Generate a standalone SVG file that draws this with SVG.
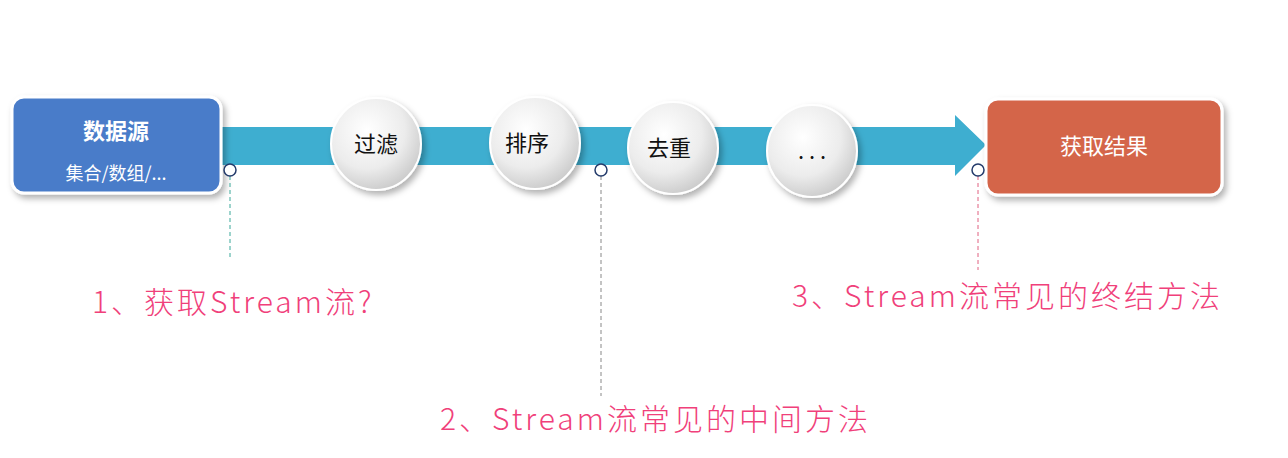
<svg xmlns="http://www.w3.org/2000/svg" width="1288" height="458" viewBox="0 0 1288 458">
<style>
.cn{font-family:"Noto Sans CJK SC","Liberation Sans",sans-serif}
.step{font-size:22px;fill:#111;text-anchor:middle}
.hand{font-family:"Noto Sans CJK SC",sans-serif;font-size:30px;fill:#f0407a;font-weight:300;letter-spacing:3px}
.dot{fill:#fff;stroke:#243b6b;stroke-width:1.5}
</style>
<defs>
<radialGradient id="g" cx="0.4" cy="0.35" r="0.7">
<stop offset="0" stop-color="#ffffff"/><stop offset="0.6" stop-color="#ececec"/><stop offset="1" stop-color="#c8c8c8"/>
</radialGradient>
<filter id="sh" x="-20%" y="-20%" width="150%" height="150%"><feDropShadow dx="3" dy="4" stdDeviation="3" flood-opacity="0.3"/></filter>
</defs>
<rect width="1288" height="458" fill="#fff"/>
<g id="arrow">
<polygon points="220,127 955,127 955,115 986,145 955,176 955,165 220,165" fill="#3eaed0"/>
</g>
<g id="source">
<rect x="12" y="97" width="209" height="96" rx="12" fill="#4a7cc9" stroke="#fff" stroke-width="3" filter="url(#sh)"/>
<text x="116" y="139" class="cn" font-size="22" font-weight="bold" fill="#fff" text-anchor="middle">数据源</text>
<text x="116" y="180" class="cn" font-size="18" fill="#fff" text-anchor="middle">集合/数组/...</text>
</g>
<g id="filter"><ellipse cx="376" cy="144" rx="45" ry="46" fill="url(#g)" stroke="#fff" stroke-width="2" filter="url(#sh)"/><text x="376" y="152" class="cn step">过滤</text></g>
<g id="sort"><ellipse cx="535" cy="143" rx="45" ry="46" fill="url(#g)" stroke="#fff" stroke-width="2" filter="url(#sh)"/><text x="527" y="151" class="cn step">排序</text></g>
<g id="distinct"><ellipse cx="673" cy="148" rx="45" ry="46" fill="url(#g)" stroke="#fff" stroke-width="2" filter="url(#sh)"/><text x="669" y="156" class="cn step">去重</text></g>
<g id="more"><ellipse cx="812" cy="151" rx="45" ry="46" fill="url(#g)" stroke="#fff" stroke-width="2" filter="url(#sh)"/><text x="812" y="159" class="cn step">. . .</text></g>
<g id="result">
<rect x="986" y="99" width="236" height="96" rx="12" fill="#d4654a" stroke="#fff" stroke-width="3" filter="url(#sh)"/>
<text x="1104" y="154" class="cn" font-size="22" fill="#fff" text-anchor="middle">获取结果</text>
</g>
<g id="connectors">
<line x1="230" y1="176" x2="230" y2="257" stroke="#3aa89a" stroke-width="1" stroke-dasharray="4,3"/>
<line x1="601" y1="176" x2="601" y2="396" stroke="#888" stroke-width="1" stroke-dasharray="4,3"/>
<line x1="978" y1="176" x2="978" y2="270" stroke="#e06080" stroke-width="1" stroke-dasharray="4,3"/>
<circle cx="230" cy="170" r="6" class="dot"/>
<circle cx="601" cy="170" r="6" class="dot"/>
<circle cx="978" cy="170" r="6" class="dot"/>
</g>
<text x="92" y="313" class="hand">1、获取Stream流?</text>
<text x="440" y="430" class="hand">2、Stream流常见的中间方法</text>
<text x="792" y="307" class="hand">3、Stream流常见的终结方法</text>
</svg>
